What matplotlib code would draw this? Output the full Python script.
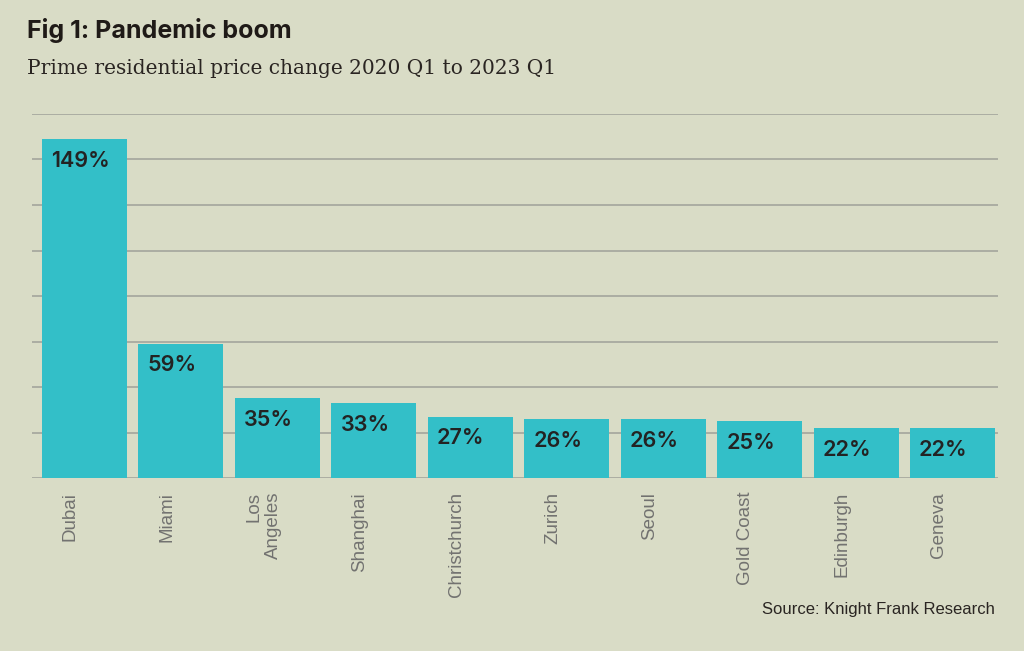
import matplotlib.pyplot as plt
from matplotlib.transforms import ScaledTranslation

cities = ["Dubai", "Miami", "Los\nAngeles", "Shanghai", "Christchurch",
          "Zurich", "Seoul", "Gold Coast", "Edinburgh", "Geneva"]
change = [149, 59, 35, 33, 27, 26, 26, 25, 22, 22]
yticks = [0, 20, 40, 60, 80, 100, 120, 140, 160]

bg = "#d9dcc6"
teal = "#33bfc8"
grid_col = "#a3a59c"

fig = plt.figure(figsize=(10.24, 6.51), dpi=100, facecolor=bg)
ax = fig.add_axes([0.03125, 0.2657, 0.9434, 0.5592])
ax.set_facecolor(bg)

x = list(range(len(cities)))
bars = ax.bar(x, change, width=0.88, color=teal, zorder=2)

for rect, v in zip(bars, change):
    ax.annotate(f"{v}%", (rect.get_x(), rect.get_height()),
                xytext=(6.5, -19.9), textcoords="offset points",
                ha="left", va="baseline", fontsize=15.5, fontweight="semibold",
                color="#232323", family="Inter", zorder=3)

ax.set_xlim(-0.544, 9.472)
ax.set_ylim(0, 160)
ax.set_yticks(yticks)
ax.yaxis.grid(True, color=grid_col, linewidth=1.2, zorder=0)
ax.tick_params(axis="y", left=False, labelleft=False)
ax.tick_params(axis="x", length=0, pad=10)
for s in ax.spines.values():
    s.set_visible(False)
ax.set_xticks(x)
ax.set_xticklabels(cities, rotation=90, ha="center", va="top",
                   multialignment="right", fontsize=13.5, color="#727270",
                   family="Liberation Sans")
# labels sit a little left of the bar centres in the original
shift = ScaledTranslation(-14 / 100, 0, fig.dpi_scale_trans)
for lab in ax.get_xticklabels():
    lab.set_transform(lab.get_transform() + shift)

fig.text(0.026, 0.942, "Fig 1: Pandemic boom", fontsize=18, fontweight="bold",
         color="#1f1a17", family="Inter", va="baseline")
fig.text(0.026, 0.886, "Prime residential price change 2020 Q1 to 2023 Q1",
         fontsize=14.5, color="#2a2522", family="DejaVu Serif", va="baseline")
fig.text(0.972, 0.064, "Source: Knight Frank Research", fontsize=12,
         color="#2a2522", family="Liberation Sans", ha="right", va="center")

fig.savefig("out.png", dpi=100, facecolor=bg)
